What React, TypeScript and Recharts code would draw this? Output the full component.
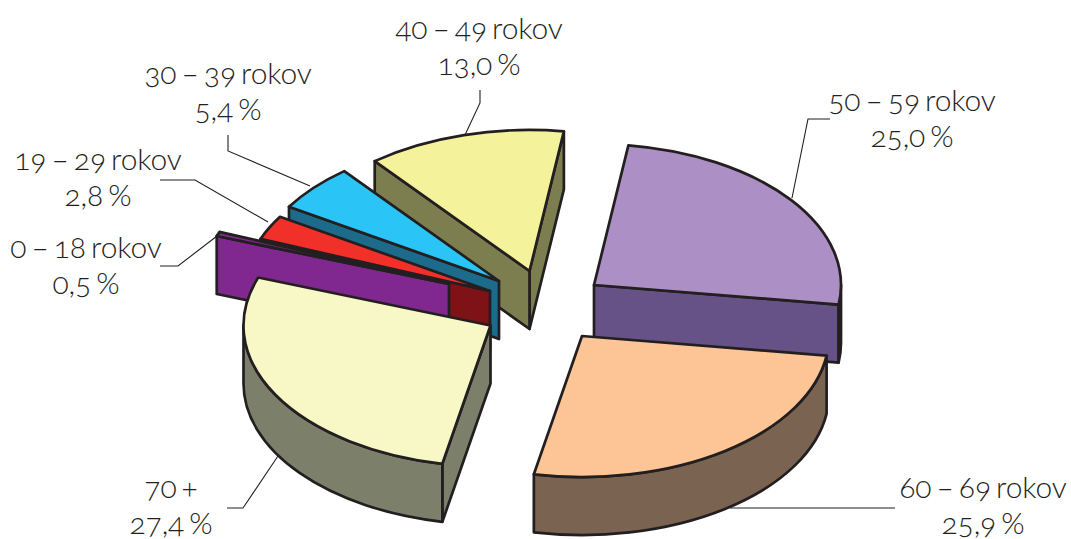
import React from "react";
import { PieChart, Pie } from "recharts";

const names = ["50 – 59 rokov","40 – 49 rokov","30 – 39 rokov","19 – 29 rokov","0 – 18 rokov","70 +","60 – 69 rokov"];
const shares = [25.0,13.0,5.4,2.8,0.5,27.4,25.9];
const shareLabels = ["25,0 %","13,0 %","5,4 %","2,8 %","0,5 %","27,4 %","25,9 %"];
const topColors = ["#AC8FC4","#F4F29B","#2BC4F6","#F2302A","#82288F","#F8F7C6","#FDC595"];
const wallColors = ["#665286","#7C7E50","#1C6B8B","#7F1216","#80288F","#7C806A","#7A6350"];
// Explosion of each slice: pixel offset of its apex from the pie centre (cx, cy)
const CX = 520, CY = 300, RX = 247, RY = 141, DEPTH = 58;
const apexOffsets: [number, number][] = [[74,-15],[9.5,-29],[-21,-19],[-30,-9],[-71,-16],[-29.5,25.5],[62,36]];
// Label anchors and leader lines (layout only)
const labelPos: [number, number][] = [[912,111],[479,39],[228,84],[98,170],[86,258],[171,498],[983,498]];
const leaders: [number, number][][] = [
  [[830,119],[808,119],[792,198]],
  [[480,90],[480,103],[465,135]],
  [[228,135],[228,151],[310,186]],
  [[160,180],[195,180],[268,222]],
  [[160,266],[178,266],[217,236]],
  [[227,508],[243,508],[278,456]],
  [[895,508],[730,508]],
];

const rows = names.map((name, i) => ({ name, value: shares[i], idx: i }));

const rad = (d: number) => (d * Math.PI) / 180;

function Slice3D(props: any) {
  const { startAngle, endAngle, index, payload } = props;
  const idx = payload?.idx ?? index ?? 0;
  const lo = Math.min(startAngle, endAngle);
  const hi = Math.max(startAngle, endAngle);
  const ax = CX + apexOffsets[idx][0];
  const ay = CY + apexOffsets[idx][1];
  const pt = (t: number, d = 0): [number, number] => [ax + RX * Math.cos(rad(t)), ay - RY * Math.sin(rad(t)) + d];
  const arc = (a: number, b: number, d = 0) => {
    const [x, y] = pt(b, d);
    const large = Math.abs(b - a) > 180 ? 1 : 0;
    const sweep = b > a ? 0 : 1;
    return `A${RX} ${RY} 0 ${large} ${sweep} ${x} ${y}`;
  };
  const stroke = "#231F20";
  const walls: React.ReactNode[] = [];
  const cut = (t: number, k: string) => {
    const [x, y] = pt(t);
    walls.push(<path key={k} d={`M${ax} ${ay}L${x} ${y}L${x} ${y + DEPTH}L${ax} ${ay + DEPTH}Z`} fill={wallColors[idx]} stroke={stroke} strokeWidth={2.7} strokeLinejoin="round" />);
  };
  if (Math.cos(rad(lo)) > 0) cut(lo, "lo");
  if (Math.cos(rad(hi)) < 0) cut(hi, "hi");
  // Outer curved wall: the part of the rim on the front half of the ellipse
  for (let k = -2; k <= 1; k++) {
    const a = Math.max(lo, 180 + 360 * k);
    const b = Math.min(hi, 360 + 360 * k);
    if (b > a) {
      const [x0, y0] = pt(a);
      const [x1, y1] = pt(b, DEPTH);
      walls.push(<path key={"rim" + k} d={`M${x0} ${y0}${arc(a, b)}L${x1} ${y1}${arc(b, a, DEPTH)}Z`} fill={wallColors[idx]} stroke={stroke} strokeWidth={2.7} strokeLinejoin="round" />);
    }
  }
  const [sx, sy] = pt(lo);
  const [ex, ey] = pt(hi);
  return (
    <g>
      {walls}
      <path d={`M${ax} ${ay}L${sx} ${sy}${arc(lo, hi)}L${ex} ${ey}Z`} fill={topColors[idx]} stroke={stroke} strokeWidth={2.7} strokeLinejoin="round" />
    </g>
  );
}

function SliceLabel(props: any) {
  const idx = props.payload?.idx ?? props.index ?? 0;
  const [x, y] = labelPos[idx];
  return (
    <text x={x} y={y} textAnchor="middle" fill="#231F20" fontFamily="Lato" fontWeight={300} fontSize={30} style={{ fontVariantNumeric: "oldstyle-nums", wordSpacing: "-3px", letterSpacing: "-0.1px" }}>
      <tspan x={x}>{names[idx]}</tspan>
      <tspan x={x} dy={36}>{shareLabels[idx]}</tspan>
    </text>
  );
}

function Leader(props: any) {
  const idx = props.payload?.idx ?? props.index ?? 0;
  return <polyline points={leaders[idx].map((p) => p.join(",")).join(" ")} fill="none" stroke="#231F20" strokeWidth={1.1} />;
}

export default function App() {
  return (
    <div style={{ position: "absolute", left: 0, top: 0, background: "#fff" }}>
      <PieChart width={1071} height={539} margin={{ top: 0, right: 0, bottom: 0, left: 0 }}>
        <Pie
          data={rows}
          dataKey="value"
          nameKey="name"
          cx={CX}
          cy={CY}
          outerRadius={RX}
          startAngle={-8}
          endAngle={352}
          paddingAngle={0}
          stroke="none"
          isAnimationActive={false}
          shape={Slice3D}
          label={SliceLabel}
          labelLine={Leader}
        />
      </PieChart>
    </div>
  );
}
